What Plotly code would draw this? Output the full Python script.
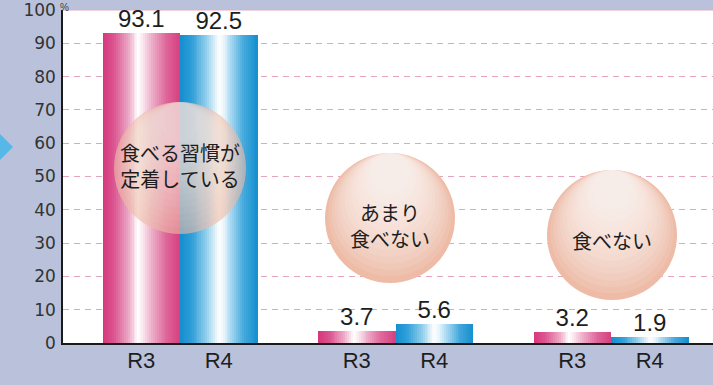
import plotly.graph_objects as go

# ---------------- data ----------------
groups = ["食べる習慣が<br>定着している", "あまり<br>食べない", "食べない"]
series_names = ["R3", "R4"]
r3_values = [93.1, 3.7, 3.2]
r4_values = [92.5, 5.6, 1.9]
y_ticks = [0, 10, 20, 30, 40, 50, 60, 70, 80, 90, 100]

# ---------------- geometry / style ----------------
W, H = 713, 385
ML, MR, MT, MB = 63, 0, 10, 42
PW, PH = W - ML - MR, H - MT - MB
G0_PX, G_STEP_PX = 180.0, 215.5          # group centre pixel, spacing
XR = [(ML - G0_PX) / G_STEP_PX, (W - MR - G0_PX) / G_STEP_PX]
BW = 77.5 / G_STEP_PX                     # bar width in data units
YR = [0, 100.02]

def px_x(px):
    return (px - G0_PX) / G_STEP_PX

def px_y(py):
    return (MT + PH - py) / PH * (YR[1] - YR[0])

def hex2rgb(h):
    h = h.lstrip("#")
    return tuple(int(h[i:i + 2], 16) for i in (0, 2, 4))

def interp(stops, t):
    for (p0, c0), (p1, c1) in zip(stops, stops[1:]):
        if p0 <= t <= p1:
            f = (t - p0) / (p1 - p0) if p1 > p0 else 0
            a, b = hex2rgb(c0), hex2rgb(c1)
            return "rgb(%d,%d,%d)" % tuple(round(a[i] + (b[i] - a[i]) * f) for i in range(3))
    return "rgb(%d,%d,%d)" % hex2rgb(stops[-1][1])

pink_stops = [(0, "#d6357b"), (0.15, "#dc5590"), (0.33, "#eca6c5"), (0.46, "#ffffff"),
              (0.52, "#fbe6ef"), (0.63, "#eeb0ca"), (0.8, "#e06c9e"), (1.0, "#d5407f")]
blue_stops = [(0, "#138ecf"), (0.15, "#2f9fd8"), (0.33, "#8ccbea"), (0.5, "#ffffff"),
              (0.56, "#e8f5fb"), (0.66, "#a9d8f0"), (0.82, "#45a9dc"), (1.0, "#148fcf")]

N_STRIPS = 40
fig = go.Figure()

group_x = list(range(len(groups)))
for s_idx, (vals, stops) in enumerate([(r3_values, pink_stops), (r4_values, blue_stops)]):
    base_off = -BW if s_idx == 0 else 0.0
    for k in range(N_STRIPS):
        t = (k + 0.5) / N_STRIPS
        # each strip reaches the bar's right edge; later strips paint over -> no seams
        fig.add_trace(go.Bar(
            x=group_x, y=vals,
            offset=base_off + k * BW / N_STRIPS,
            width=BW * (N_STRIPS - k) / N_STRIPS,
            marker=dict(color=interp(stops, t), line=dict(width=0)),
            showlegend=False, hoverinfo="skip",
        ))

# value labels
for s_idx, vals in enumerate([r3_values, r4_values]):
    cx = [g + (-BW / 2 if s_idx == 0 else BW / 2) for g in group_x]
    fig.add_trace(go.Scatter(
        x=cx, y=vals, mode="text", text=[f"{v:.1f}" for v in vals],
        textposition="top center",
        textfont=dict(family="Liberation Sans, Arial, sans-serif", size=24, color="#1e1e1e"),
        showlegend=False, hoverinfo="skip", cliponaxis=False,
    ))

# x tick positions / labels
tickvals, ticktext = [], []
for g in group_x:
    tickvals += [g - BW / 2, g + BW / 2]
    ticktext += series_names

shapes = []
# solid top line
shapes.append(dict(type="line", xref="paper", yref="paper", x0=0, x1=1, y0=1, y1=1,
                   line=dict(color="#e6a9c0", width=1), layer="below"))

# bubbles
bubbles = [  # (cx_px, cy_px, r_px, base opacity)
    (180, 168, 66, 0.62),
    (390, 218, 65, 1.0),
    (612, 235, 65, 1.0),
]
N_HL = 14
for i, (cx, cy, r, op) in enumerate(bubbles):
    shapes.append(dict(type="circle", xref="x", yref="y",
                       x0=px_x(cx - r), x1=px_x(cx + r), y0=px_y(cy + r), y1=px_y(cy - r),
                       fillcolor="#eebba7", line=dict(width=0), opacity=op, layer="above"))
    for j in range(1, N_HL + 1):
        rr = r * (1 - 0.05 * j)
        ccy = cy - r * 0.05 * j
        shapes.append(dict(type="circle", xref="x", yref="y",
                           x0=px_x(cx - rr), x1=px_x(cx + rr), y0=px_y(ccy + rr), y1=px_y(ccy - rr),
                           fillcolor="#ffffff", line=dict(width=0),
                           opacity=0.1 if i else 0.05, layer="above"))

# left arrow (decorative)
def pap_x(px):
    return (px - ML) / PW

def pap_y(py):
    return (MT + PH - py) / PH

shapes.append(dict(type="path", xref="paper", yref="paper",
                   path=f"M {pap_x(0)} {pap_y(134)} L {pap_x(13)} {pap_y(147)} L {pap_x(0)} {pap_y(160)} Z",
                   fillcolor="#55b8e6", line=dict(width=0), layer="above"))

annotations = []
label_pos = [(180, 165), (390, 225), (612, 240)]
for (lx, ly), txt in zip(label_pos, groups):
    annotations.append(dict(x=px_x(lx), y=px_y(ly), xref="x", yref="y", text=txt,
                            showarrow=False, align="center",
                            font=dict(family="Noto Sans CJK JP", size=20, color="#1e1e1e")))
annotations.append(dict(x=pap_x(58), y=pap_y(0), xref="paper", yref="paper", text="%",
                        showarrow=False, xanchor="left", yanchor="top",
                        font=dict(family="Liberation Sans, sans-serif", size=10, color="#444")))

fig.update_layout(
    width=W, height=H,
    margin=dict(l=ML, r=MR, t=MT, b=MB, pad=0),
    paper_bgcolor="#bac1db",
    plot_bgcolor="#ffffff",
    barmode="overlay",
    bargap=0,
    shapes=shapes,
    annotations=annotations,
    xaxis=dict(range=XR, tickvals=tickvals, ticktext=ticktext, showgrid=False,
               zeroline=False, showline=True, linecolor="#1a1a1a", linewidth=1.5,
               ticks="", ticklabelstandoff=-3,
               tickfont=dict(family="Liberation Sans, Arial, sans-serif", size=22, color="#1e1e1e")),
    yaxis=dict(range=YR, tickvals=y_ticks, showgrid=True, gridcolor="#e4a5bd",
               griddash="6px,5px", gridwidth=1, zeroline=False,
               showline=True, linecolor="#1a1a1a", linewidth=1.5, ticks="",
               ticklabelstandoff=2,
               tickfont=dict(family="DejaVu Sans, sans-serif", size=17, color="#333333")),
    showlegend=False,
)

fig.write_html("out.html")
